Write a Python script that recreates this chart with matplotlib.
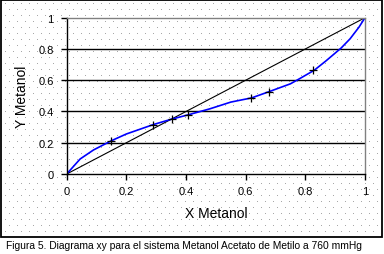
import numpy as np
import matplotlib.pyplot as plt
from matplotlib.patches import Rectangle

plt.rcParams['font.family'] = ['Liberation Sans', 'DejaVu Sans']

# EQUILIBRIUM CURVE
x_curve = [0.0, 0.045, 0.09, 0.15, 0.20, 0.29, 0.35, 0.41, 0.48, 0.55,
           0.62, 0.68, 0.75, 0.78, 0.83, 0.87, 0.92, 0.95, 0.98, 1.0]
y_curve = [0.0, 0.096, 0.154, 0.213, 0.256, 0.316, 0.35, 0.38, 0.417, 0.46,
           0.487, 0.528, 0.577, 0.609, 0.664, 0.725, 0.806, 0.865, 0.94, 1.0]

# EXPERIMENTAL POINTS
x_exp = [0.149, 0.289, 0.352, 0.408, 0.619, 0.678, 0.827]
y_exp = [0.213, 0.314, 0.352, 0.378, 0.487, 0.527, 0.665]

# DIAGONAL y = x
x_diag = [0, 1]
y_diag = [0, 1]

ticks = [0, 0.2, 0.4, 0.6, 0.8, 1]
tick_labels = ['0', '0.2', '0.4', '0.6', '0.8', '1']
caption = 'Figura 5. Diagrama xy para el sistema Metanol Acetato de Metilo a 760 mmHg'

W, H = 384, 255
fig = plt.figure(figsize=(W / 100, H / 100), dpi=100)

# BACKGROUND: DOTTED PATTERN AND OUTER BOX (pixel coords)
bg = fig.add_axes([0, 0, 1, 1], zorder=0)
bg.set_xlim(0, W)
bg.set_ylim(H, 0)
bg.axis('off')
gx, gy = np.meshgrid(np.arange(5, 381, 8), np.arange(4, 237, 6))
gx = gx + (np.arange(gy.shape[0])[:, None] % 2) * 4
bg.plot(gx.ravel(), gy.ravel(), ls='none', marker='s', ms=0.6, mew=0,
        color='#a0a0a0')
bg.add_patch(Rectangle((1, 1), 381, 237, fill=False, lw=1.3, edgecolor='black'))

# MAIN AXES
ax = fig.add_axes([66.7 / W, 80 / H, 298.3 / W, 156.3 / H], zorder=1)
ax.set_facecolor('none')
ax.set_xlim(0, 1)
ax.set_ylim(0, 1)

ax.hlines(ticks[1:-1], 0, 1, color='black', lw=1)
ax.plot(x_diag, y_diag, color='black', lw=0.8)
ax.plot(x_curve, y_curve, color='#0000ff', lw=1.2)
ax.plot(x_exp, y_exp, ls='none', marker='+', ms=6, mew=0.9, color='black')

ax.set_xticks(ticks)
ax.set_xticklabels(tick_labels)
ax.set_yticks(ticks)
ax.set_yticklabels(tick_labels)
ax.tick_params(axis='both', direction='out', length=4, width=1, labelsize=8,
               color='black')
ax.tick_params(axis='x', pad=4.7)
ax.tick_params(axis='y', pad=5.5)

for side in ['left', 'bottom']:
    ax.spines[side].set_color('black')
    ax.spines[side].set_linewidth(1)
for side in ['top', 'right']:
    ax.spines[side].set_color('#808080')
    ax.spines[side].set_linewidth(1)
    ax.spines[side].set_linestyle((0, (1, 1)))

ax.set_xlabel('X Metanol', fontsize=10)
ax.set_ylabel('Y Metanol', fontsize=10)
ax.xaxis.set_label_coords(0.5, -0.205)
ax.yaxis.set_label_coords(-0.128, 0.5)

fig.text(184.5 / W, 1 - 246 / H, caption, fontsize=7.4, ha='center', va='center')

fig.savefig('out.png', dpi=100)
